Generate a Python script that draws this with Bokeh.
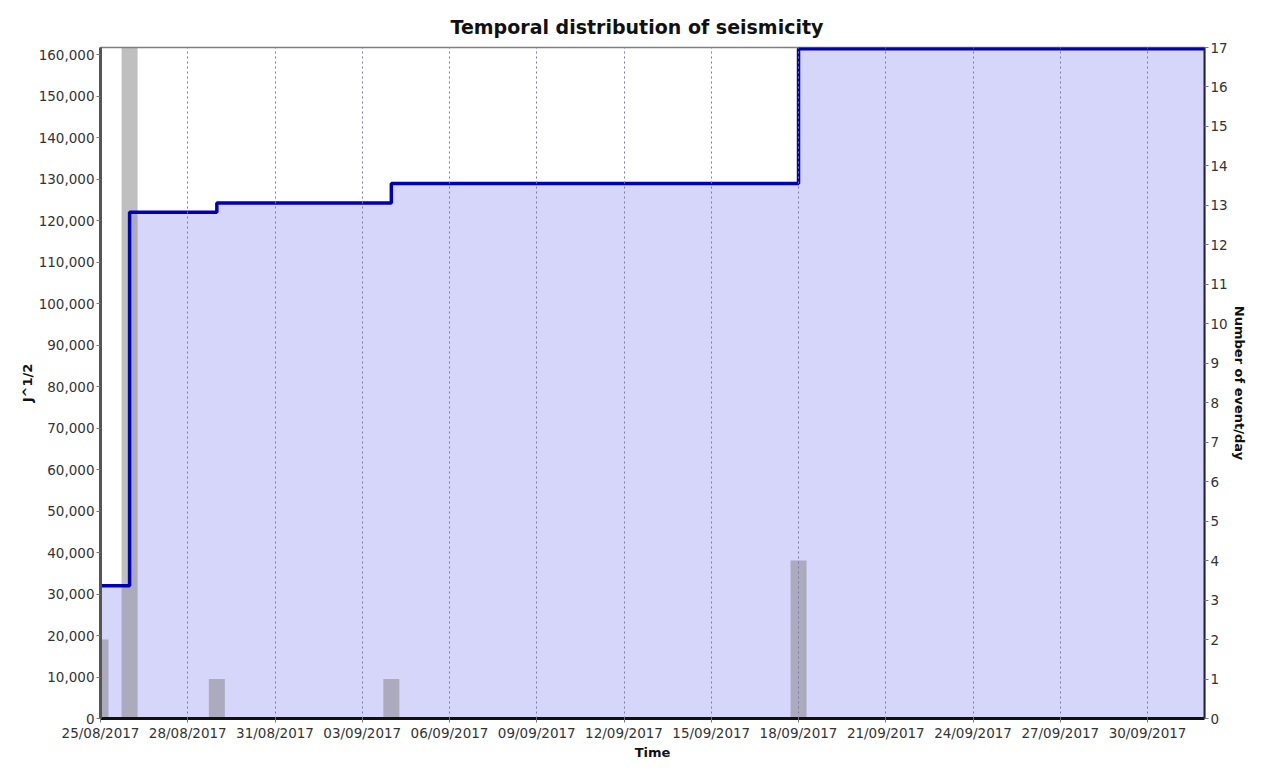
from datetime import datetime
from bokeh.plotting import figure
from bokeh.models import (Range1d, LinearAxis, FixedTicker, DatetimeTickFormatter,
                          NumeralTickFormatter, ColumnDataSource)
from bokeh.embed import file_html
from bokeh.resources import INLINE

# ---- data ----
step_dates = ["2017-08-25", "2017-08-26", "2017-08-29", "2017-09-04", "2017-09-18", "2017-10-02"]
cum_j = [32000, 122100, 124300, 129000, 161500, 161500]

bar_dates = ["2017-08-25", "2017-08-26", "2017-08-29", "2017-09-04", "2017-09-18"]
events_per_day = [2, 20, 1, 1, 4]

tick_labels = ["25/08/2017", "28/08/2017", "31/08/2017", "03/09/2017", "06/09/2017",
               "09/09/2017", "12/09/2017", "15/09/2017", "18/09/2017", "21/09/2017",
               "24/09/2017", "27/09/2017", "30/09/2017"]
left_ticks = list(range(0, 170000, 10000))
right_ticks = list(range(0, 18))

# ---- helpers ----
EPOCH = datetime(1970, 1, 1)
def ms(d):
    return (d - EPOCH).total_seconds() * 1000.0

step_x = [datetime.strptime(s, "%Y-%m-%d") for s in step_dates]
bar_x = [datetime.strptime(s, "%Y-%m-%d") for s in bar_dates]
tick_ms = [ms(datetime.strptime(s, "%d/%m/%Y")) for s in tick_labels]

FONT = "DejaVu Sans"

p = figure(width=1249, height=762, x_axis_type="datetime",
           x_range=Range1d(datetime(2017, 8, 25), datetime(2017, 10, 1, 23)),
           y_range=Range1d(0, 161800),
           output_backend="svg", toolbar_location=None,
           min_border_left=100, min_border_right=42, min_border_top=47, min_border_bottom=37,
           title="Temporal distribution of seismicity")
p.extra_y_ranges = {"cnt": Range1d(0, 17)}

src_step = ColumnDataSource(dict(x=step_x, y=cum_j))
src_bar = ColumnDataSource(dict(x=bar_x, top=events_per_day))

p.varea_step(x="x", y1=0, y2="y", source=src_step, step_mode="after",
             fill_color="#d6d6fb", fill_alpha=1.0)
p.vbar(x="x", top="top", width=0.55 * 86400000, source=src_bar, y_range_name="cnt",
       fill_color="#808080", fill_alpha=0.5, line_color=None)
p.step(x="x", y="y", source=src_step, mode="after", line_color="#0000b4", line_width=3.5)

# title
p.title.text_font = FONT
p.title.text_font_size = "19px"
p.title.text_font_style = "bold"
p.title.align = "left"
p.title.offset = 350
p.title.standoff = 20
p.title.text_color = "#111111"

# x axis
xa = p.xaxis[0]
xa.ticker = FixedTicker(ticks=tick_ms)
fmt = "%d/%m/%Y"
xa.formatter = DatetimeTickFormatter(days=fmt, months=fmt, years=fmt, hours=fmt,
                                     hourmin=fmt, minutes=fmt, seconds=fmt)
xa.axis_label = "Time"
xa.axis_line_color = "#111111"
xa.axis_line_width = 3

# left axis
ya = p.yaxis[0]
ya.ticker = FixedTicker(ticks=left_ticks)
ya.formatter = NumeralTickFormatter(format="0,0")
ya.axis_label = "J^1/2"
ya.axis_line_color = "#555555"
ya.axis_line_width = 3

# right axis
ra = LinearAxis(y_range_name="cnt", ticker=FixedTicker(ticks=right_ticks),
                axis_label="Number of event/day")
ra.axis_line_color = "#202040"
ra.axis_line_width = 2
p.add_layout(ra, "right")

for ax in [xa, ya, ra]:
    ax.major_label_text_font = FONT
    ax.major_label_text_font_size = "13.5px"
    ax.major_label_text_color = "#333333"
    ax.axis_label_text_font = FONT
    ax.axis_label_text_font_size = "13px"
    ax.axis_label_text_font_style = "bold"
    ax.axis_label_text_color = "#111111"
    ax.minor_tick_line_color = None
    ax.major_tick_line_color = "#777777"
    ax.major_tick_in = 0
    ax.major_tick_out = 4
    ax.major_label_standoff = 2
    ax.axis_label_standoff = 1

# grid
p.ygrid.grid_line_color = None
p.xgrid.grid_line_color = "#7a7aa8"
p.xgrid.grid_line_dash = "2 3"
p.xgrid.grid_line_width = 1
p.xgrid.level = "overlay"

p.outline_line_color = "#808080"
p.outline_line_width = 1.5
p.background_fill_color = "white"
p.border_fill_color = "white"

open("out.html", "w").write(file_html(p, INLINE))
